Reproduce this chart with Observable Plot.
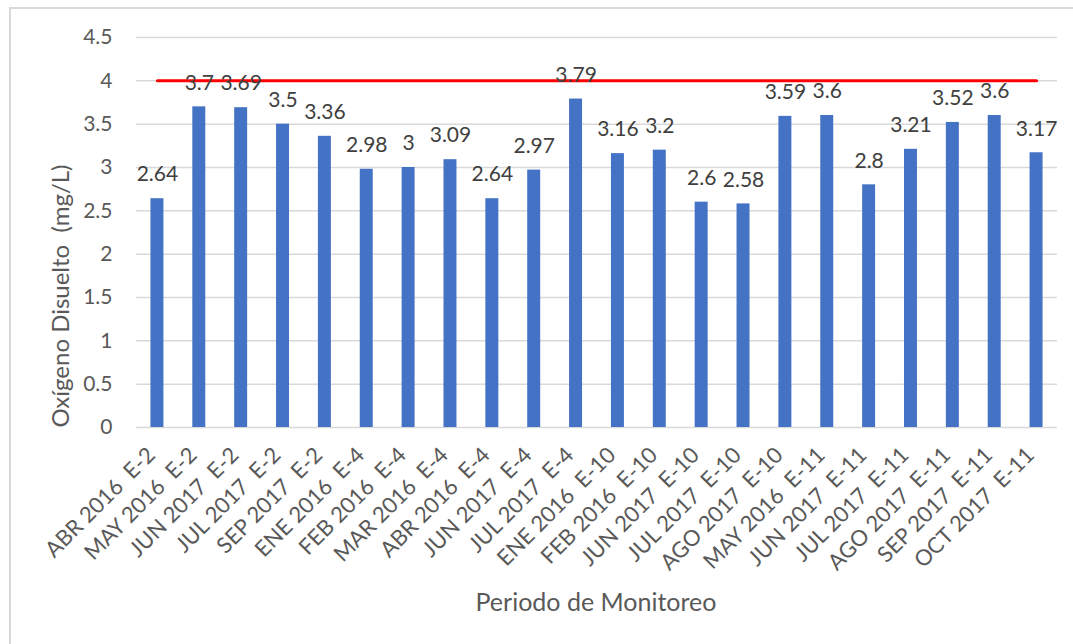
<!DOCTYPE html>
<html>
<head>
<meta charset="utf-8">
<script src="https://cdn.jsdelivr.net/npm/d3@7"></script>
<script src="https://cdn.jsdelivr.net/npm/@observablehq/plot@0.6"></script>
<style>
  html, body { margin: 0; padding: 0; background: #fff; overflow: hidden; }
  #wrap { position: relative; width: 1073px; height: 644px; font-family: Lato, "Open Sans", sans-serif; }
  #frame { position: absolute; left: 9px; top: 7px; width: 1100px; height: 700px;
           border-left: 2px solid #d9d9d9; border-top: 2px solid #d9d9d9; }
  #chart { position: absolute; left: 0; top: 0; }
  #chart svg text { white-space: pre; }
  .ytitle { position: absolute; left: 59px; top: 296px; transform: translate(-50%, -50%) rotate(-90deg);
            white-space: pre; font-size: 24px; color: #595959; }
  .xtitle { position: absolute; left: 596px; top: 601px; transform: translate(-50%, -50%);
            white-space: pre; font-size: 25px; color: #595959; }
</style>
</head>
<body>
<div id="wrap">
  <div id="frame"></div>
  <div id="chart"></div>
  <div class="ytitle">Oxígeno Disuelto  (mg/L)</div>
  <div class="xtitle">Periodo de Monitoreo</div>
</div>
<script>
const categories = [
  "ABR 2016  E-2", "MAY 2016  E-2", "JUN 2017  E-2", "JUL 2017  E-2", "SEP 2017  E-2",
  "ENE 2016  E-4", "FEB 2016  E-4", "MAR 2016  E-4", "ABR 2016  E-4", "JUN 2017  E-4", "JUL 2017  E-4",
  "ENE 2016  E-10", "FEB 2016  E-10", "JUN 2017  E-10", "JUL 2017  E-10", "AGO 2017  E-10",
  "MAY 2016  E-11", "JUN 2017  E-11", "JUL 2017  E-11", "AGO 2017  E-11", "SEP 2017  E-11", "OCT 2017  E-11"
];
const oxigeno = [
  2.64, 3.7, 3.69, 3.5, 3.36,
  2.98, 3, 3.09, 2.64, 2.97, 3.79,
  3.16, 3.2, 2.6, 2.58, 3.59,
  3.6, 2.8, 3.21, 3.52, 3.6, 3.17
];
const limite = 4;
const yTicks = [0, 0.5, 1, 1.5, 2, 2.5, 3, 3.5, 4, 4.5];

const data = categories.map((c, i) => ({cat: c, v: oxigeno[i]}));
const limitLine = [
  {cat: categories[0], v: limite},
  {cat: categories[categories.length - 1], v: limite}
];

const chart = Plot.plot({
  width: 1073,
  height: 644,
  marginLeft: 136,
  marginRight: 16,
  marginTop: 37,
  marginBottom: 217,
  style: {fontFamily: "Lato, 'Open Sans', sans-serif", background: "transparent"},
  x: {domain: categories, paddingInner: 0.69, paddingOuter: 0.345, round: false, label: null},
  y: {domain: [0, 4.5], label: null},
  marks: [
    Plot.gridY(yTicks, {stroke: "#d9d9d9", strokeOpacity: 1, strokeWidth: 1.5}),
    Plot.axisY(yTicks, {tickSize: 0, tickPadding: 24, fontSize: 21, color: "#595959", label: null,
      tickFormat: d => String(d)}),
    Plot.axisX({tickSize: 0, tickRotate: -45, tickPadding: 24, dx: -6, fontSize: 22, color: "#595959", label: null}),
    Plot.barY(data, {x: "cat", y: "v", fill: "#4472c4"}),
    Plot.line(limitLine, {x: "cat", y: "v", stroke: "#ff0000", strokeWidth: 3}),
    Plot.text(data, {x: "cat", y: "v", text: d => String(d.v), dy: -24, fontSize: 21, fill: "#404040"})
  ]
});
document.getElementById("chart").appendChild(chart);
</script>
</body>
</html>
